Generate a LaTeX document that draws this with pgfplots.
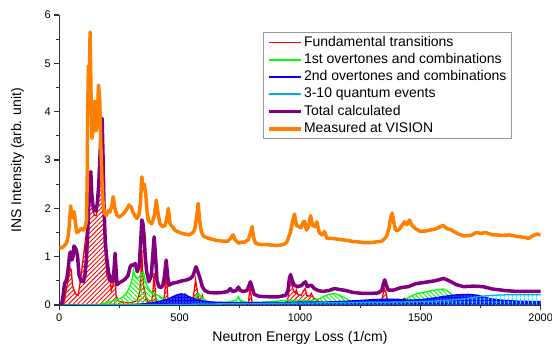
\documentclass[border=0pt]{standalone}
\usepackage{fontspec}
\setmainfont{Liberation Sans}
\usepackage{pgfplots}
\pgfplotsset{compat=1.18}
\usepackage{pgfplotstable}
\usetikzlibrary{patterns,patterns.meta}
\definecolor{vorange}{RGB}{255,128,0}
\definecolor{vpurple}{RGB}{128,0,128}
\definecolor{vgreen}{RGB}{0,255,0}

\pgfplotstableread{
x y
0 1.20
10 1.18
20 1.22
30 1.28
38 1.45
43 1.75
47 2.05
52 1.85
57 1.80
62 1.93
67 1.70
72 1.50
80 1.52
90 1.58
100 1.55
108 1.62
113 1.75
116 2.6
118 4.0
121 4.95
124 4.4
128 5.65
132 4.3
136 3.45
141 3.7
147 4.22
152 3.6
157 3.75
163 4.55
168 4.25
172 3.4
177 2.6
182 2.1
188 1.9
195 1.85
203 1.95
210 1.92
218 2.05
224 2.24
231 2.0
239 1.86
248 1.82
258 1.85
268 1.9
280 1.98
290 2.07
298 2.03
308 1.9
322 1.79
330 1.85
337 2.1
343 2.65
348 2.4
353 2.5
359 2.3
364 1.95
370 1.75
384 1.68
395 1.85
403 2.17
410 1.9
418 1.68
430 1.62
440 1.65
447 1.8
453 2.0
460 1.68
470 1.62
480 1.55
490 1.52
500 1.5
510 1.48
520 1.47
530 1.46
540 1.45
555 1.5
562 1.55
570 1.8
577 2.1
583 1.75
590 1.52
600 1.42
610 1.40
620 1.38
635 1.36
650 1.34
665 1.33
680 1.32
700 1.32
712 1.38
722 1.45
730 1.35
745 1.28
758 1.30
770 1.3
785 1.35
795 1.5
801 1.62
807 1.4
815 1.28
828 1.26
840 1.25
860 1.25
880 1.24
900 1.23
920 1.24
935 1.26
945 1.3
960 1.5
970 1.75
977 1.88
985 1.65
995 1.62
1005 1.6
1013 1.72
1019 1.73
1027 1.55
1035 1.62
1044 1.85
1052 1.65
1062 1.62
1070 1.72
1080 1.5
1092 1.45
1102 1.52
1112 1.38
1130 1.38
1145 1.37
1160 1.36
1175 1.35
1190 1.34
1205 1.33
1220 1.31
1235 1.31
1250 1.3
1265 1.29
1280 1.29
1295 1.29
1310 1.3
1325 1.31
1340 1.32
1360 1.42
1370 1.6
1377 1.82
1383 1.9
1390 1.7
1397 1.55
1410 1.55
1420 1.62
1434 1.72
1445 1.66
1455 1.76
1465 1.65
1480 1.58
1500 1.52
1520 1.53
1540 1.55
1560 1.57
1575 1.6
1594 1.65
1610 1.58
1630 1.55
1656 1.47
1680 1.43
1710 1.44
1733 1.5
1750 1.48
1770 1.5
1800 1.45
1820 1.45
1840 1.44
1870 1.45
1900 1.42
1930 1.4
1950 1.38
1970 1.44
1985 1.47
2000 1.45
}\measured

\pgfplotstableread{
x y
0 0
10 0.02
16 0.2
22 0.45
27 0.48
33 0.6
38 0.8
43 1.05
47 1.1
52 0.93
57 1.0
61 1.22
66 1.18
70 1.15
76 1.0
82 0.62
90 0.5
100 0.48
106 0.6
112 0.9
118 1.5
123 2.2
127 2.6
131 2.76
135 2.3
140 2.05
146 1.95
152 1.95
158 2.1
164 2.5
170 3.2
174 3.7
178 3.86
182 3.0
186 2.0
191 1.3
197 0.97
204 0.7
211 0.52
220 0.48
227 0.7
232 1.07
236 0.7
240 0.42
250 0.46
270 0.52
285 0.6
295 0.8
301 0.83
309 0.82
315 0.86
324 0.69
332 0.8
338 1.3
343 1.76
347 1.7
352 1.45
357 1.0
363 0.69
372 0.48
382 0.6
388 1.0
394 1.41
400 1.0
406 0.5
414 0.38
422 0.36
430 0.4
437 0.6
444 0.93
450 0.6
456 0.41
470 0.45
490 0.47
510 0.5
530 0.52
545 0.55
555 0.6
562 0.7
568 0.79
575 0.7
585 0.55
594 0.38
604 0.3
620 0.26
650 0.25
680 0.26
700 0.28
710 0.34
720 0.28
735 0.3
744 0.37
752 0.3
765 0.28
780 0.3
788 0.4
794 0.48
800 0.38
810 0.22
830 0.18
870 0.17
910 0.17
940 0.2
950 0.3
956 0.55
961 0.63
968 0.5
976 0.41
990 0.38
1005 0.4
1015 0.45
1023 0.48
1030 0.38
1040 0.4
1047 0.41
1060 0.34
1075 0.3
1095 0.28
1120 0.3
1143 0.34
1165 0.32
1190 0.3
1220 0.26
1260 0.24
1300 0.24
1325 0.25
1340 0.3
1347 0.45
1352 0.52
1358 0.42
1366 0.31
1390 0.31
1420 0.36
1450 0.38
1480 0.44
1520 0.47
1560 0.5
1597 0.55
1620 0.5
1650 0.42
1680 0.38
1720 0.39
1760 0.38
1800 0.33
1850 0.3
1900 0.28
1950 0.28
2000 0.28
}\total

\pgfplotstableread{
x y
0 0
15 0
22 0.1
30 0.35
38 0.55
45 0.76
50 0.72
55 0.4
62 0.3
70 0.22
78 0.2
85 0.4
95 0.8
105 1.2
115 1.6
122 2.0
128 2.55
133 2.5
140 1.95
147 1.85
153 1.85
160 2.05
167 2.4
172 3.0
176 3.6
179 3.75
183 2.8
187 1.8
192 1.0
198 0.6
205 0.5
211 0.58
216 0.3
222 0.4
227 0.5
232 0.55
236 0.2
245 0.08
270 0.05
300 0.05
325 0.1
335 0.3
340 0.75
343 1.14
346 0.7
350 0.4
355 0.3
360 0.15
370 0.05
385 0.1
390 0.35
394 0.66
398 0.35
403 0.05
430 0.03
437 0.2
441 0.45
444 0.62
447 0.45
452 0.1
480 0.02
520 0.05
540 0.02
555 0.1
562 0.35
566 0.52
570 0.4
578 0.15
585 0.1
595 0.2
600 0.05
620 0.02
700 0.02
785 0.02
789 0.2
793 0.34
797 0.2
802 0.02
900 0.02
945 0.02
952 0.2
958 0.48
962 0.55
966 0.42
972 0.3
980 0.25
985 0.31
990 0.22
1005 0.2
1015 0.3
1022 0.34
1028 0.2
1040 0.18
1047 0.24
1055 0.15
1065 0.12
1075 0.1
1082 0.02
1330 0.02
1342 0.15
1350 0.34
1358 0.25
1365 0.05
1380 0.02
1410 0.02
1425 0.1
1434 0.14
1445 0.1
1460 0.02
2000 0.01
}\fundamental

\pgfplotstableread{
x y
0 0
150 0
200 0.05
230 0.1
260 0.15
280 0.25
295 0.4
303 0.55
308 0.72
315 0.6
325 0.55
335 0.6
343 0.66
349 0.69
355 0.55
363 0.42
375 0.3
390 0.25
410 0.2
430 0.14
450 0.1
480 0.1
500 0.1
515 0.18
523 0.24
532 0.18
545 0.1
560 0.12
570 0.2
578 0.24
585 0.2
600 0.12
620 0.06
650 0.05
700 0.06
735 0.1
744 0.17
752 0.1
780 0.05
850 0.06
900 0.08
950 0.1
1000 0.1
1050 0.1
1081 0.13
1100 0.18
1120 0.22
1143 0.24
1165 0.2
1185 0.15
1210 0.08
1250 0.06
1300 0.06
1350 0.06
1400 0.08
1430 0.1
1460 0.18
1490 0.24
1520 0.27
1550 0.3
1575 0.32
1594 0.33
1610 0.3
1630 0.22
1655 0.12
1680 0.06
1750 0.04
1850 0.04
2000 0.04
}\first

\pgfplotstableread{
x y
0 0
300 0
340 0.02
380 0.04
420 0.08
450 0.12
470 0.17
490 0.21
505 0.23
520 0.22
540 0.17
570 0.11
600 0.08
640 0.06
700 0.05
800 0.05
900 0.05
1000 0.06
1100 0.06
1200 0.08
1300 0.11
1350 0.12
1400 0.12
1450 0.1
1500 0.11
1550 0.14
1600 0.18
1650 0.21
1700 0.22
1740 0.2
1790 0.13
1840 0.1
1900 0.08
2000 0.07
}\second

\pgfplotstableread{
x y
0 0
400 0.01
600 0.02
800 0.03
1000 0.04
1200 0.05
1400 0.06
1550 0.08
1650 0.11
1700 0.14
1750 0.18
1800 0.2
1850 0.21
2000 0.21
}\multi

\begin{document}
\begin{tikzpicture}
\useasboundingbox (-59.3pt,-45pt) rectangle (492.7pt,305pt);
\begin{axis}[
  at={(0,0)}, anchor=south west,
  scale only axis, width=481.4pt, height=290pt,
  xmin=0, xmax=2000, ymin=0, ymax=6,
  axis lines=left,
  axis line style={-, line width=1.2pt, black!80},
  tick align=outside,
  major tick length=5pt, minor tick length=3pt,
  tick style={line width=1.2pt, black!80},
  xtick={0,500,1000,1500,2000}, ytick={0,1,2,3,4,5,6},
  minor x tick num=1, minor y tick num=1,
  /pgf/number format/assume math mode=true,
  /pgf/number format/1000 sep={},
  ticklabel style={font=\fontsize{11}{13}\selectfont},
  xlabel={Neutron Energy Loss (1/cm)},
  ylabel={INS Intensity (arb. unit)},
  label style={font=\fontsize{14}{16}\selectfont},
  xlabel style={at={(axis description cs:0.5,-0.114)}, anchor=center},
  ylabel style={at={(axis description cs:-0.087,0.5)}, anchor=center},
  legend cell align=left,
  legend style={at={(0.9405,0.940)}, anchor=north east,
    draw=gray!80, line width=0.8pt, inner xsep=3.5pt, inner ysep=1pt,
    font=\fontsize{14}{16}\selectfont,
    nodes={inner sep=1.75pt, text height=10.5pt, text depth=3.3pt}},
]
% fundamental
\addplot[draw=none, pattern={Lines[angle=45,distance=3.2pt,line width=0.9pt]}, pattern color=red, forget plot] table[x=x,y=y]{\fundamental} \closedcycle;
\addplot[red, line width=1.3pt, legend image code/.code={\draw[draw=red, line width=1.8pt] (0pt,0pt) -- (32pt,0pt);}] table[x=x,y=y]{\fundamental};
\addlegendentry{Fundamental transitions}
% first overtones
\addplot[draw=none, pattern={Lines[angle=-45,distance=3.2pt,line width=0.9pt]}, pattern color=vgreen, forget plot] table[x=x,y=y]{\first} \closedcycle;
\addplot[vgreen, line width=1.3pt, legend image code/.code={\draw[draw=vgreen, line width=1.8pt] (0pt,0pt) -- (32pt,0pt);}] table[x=x,y=y]{\first};
\addlegendentry{1st overtones and combinations}
% second overtones
\addplot[draw=none, fill=blue, forget plot] table[x=x,y=y]{\second} \closedcycle;
\addplot[draw=none, pattern={Dots[distance=3pt,radius=0.7pt]}, pattern color=white, forget plot] table[x=x,y=y]{\second} \closedcycle;
\addplot[blue, line width=1.3pt, legend image code/.code={\draw[draw=blue, line width=1.8pt] (0pt,0pt) -- (32pt,0pt);}] table[x=x,y=y]{\second};
\addlegendentry{2nd overtones and combinations}
% 3-10 quantum
\addplot[draw=none, pattern={Lines[angle=90,distance=4pt,line width=1pt]}, pattern color=cyan, forget plot] table[x=x,y=y]{\multi} \closedcycle;
\addplot[cyan, line width=1.3pt, legend image code/.code={\draw[draw=cyan, line width=1.8pt] (0pt,0pt) -- (32pt,0pt);}] table[x=x,y=y]{\multi};
\addlegendentry{3-10 quantum events}
% total
\addplot[vpurple, line width=3.5pt, line join=round, legend image code/.code={\draw[draw=vpurple, line width=3.2pt] (0pt,0pt) -- (32pt,0pt);}] table[x=x,y=y]{\total};
\addlegendentry{Total calculated}
% measured
\addplot[vorange, line width=3.5pt, line join=round, legend image code/.code={\draw[draw=vorange, line width=3.2pt] (0pt,0pt) -- (32pt,0pt);}] table[x=x,y=y]{\measured};
\addlegendentry{Measured at VISION}
\end{axis}
\end{tikzpicture}
\end{document}
